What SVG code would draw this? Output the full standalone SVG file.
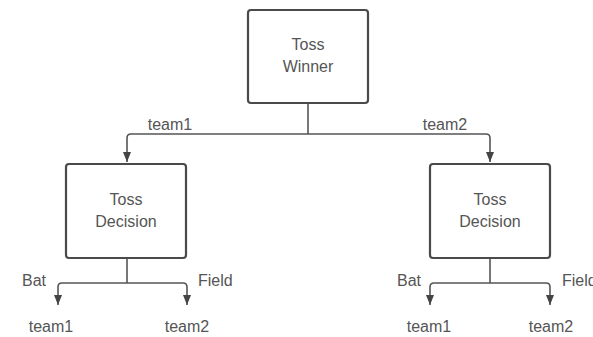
<svg xmlns="http://www.w3.org/2000/svg" width="593" height="337" viewBox="0 0 593 337">
<defs>
<style>
.box{fill:#fff;stroke:#4a4a4a;stroke-width:2.2}
.t{font-family:"Liberation Sans",Arial,sans-serif;font-size:16px;fill:#555;text-anchor:middle}
.l{font-family:"Liberation Sans",Arial,sans-serif;font-size:16px;fill:#555}
.c{fill:none;stroke:#555;stroke-width:1.6}
</style>
<marker id="ah" markerWidth="10" markerHeight="8" refX="10" refY="4" orient="auto" markerUnits="userSpaceOnUse" viewBox="0 0 10 8">
<path d="M0,0 L10,4 L0,8 Z" fill="#444"/>
</marker>
</defs>
<rect width="593" height="337" fill="#fff"/>
<g id="connectors">
<path class="c" d="M308,103 V134"/>
<path class="c" d="M308,134 H131 Q127,134 127,138 V162" marker-end="url(#ah)"/>
<path class="c" d="M308,134 H486 Q490,134 490,138 V162" marker-end="url(#ah)"/>
<path class="c" d="M127,258 V283"/>
<path class="c" d="M127,283 H62 Q58,283 58,287 V305" marker-end="url(#ah)"/>
<path class="c" d="M127,283 H183 Q187,283 187,287 V305" marker-end="url(#ah)"/>
<path class="c" d="M490,258 V283"/>
<path class="c" d="M490,283 H434 Q430,283 430,287 V305" marker-end="url(#ah)"/>
<path class="c" d="M490,283 H546 Q550,283 550,287 V305" marker-end="url(#ah)"/>
<text class="t" x="170" y="130">team1</text>
<text class="t" x="445" y="130">team2</text>
<text class="l" x="22" y="286">Bat</text>
<text class="l" x="198" y="286">Field</text>
<text class="l" x="397" y="286">Bat</text>
<text class="l" x="562" y="286">Field</text>
</g>
<g id="toss-winner">
<rect class="box" x="248" y="10" width="120" height="93" rx="3"/>
<text class="t" x="308" y="50">Toss</text>
<text class="t" x="308" y="72">Winner</text>
</g>
<g id="toss-decision-left">
<rect class="box" x="66" y="164" width="120" height="94" rx="3"/>
<text class="t" x="126" y="205">Toss</text>
<text class="t" x="126" y="227">Decision</text>
</g>
<g id="toss-decision-right">
<rect class="box" x="430" y="164" width="120" height="94" rx="3"/>
<text class="t" x="490" y="205">Toss</text>
<text class="t" x="490" y="227">Decision</text>
</g>
<g id="leaf-left-team1"><text class="t" x="51" y="332">team1</text></g>
<g id="leaf-left-team2"><text class="t" x="187" y="332">team2</text></g>
<g id="leaf-right-team1"><text class="t" x="429" y="332">team1</text></g>
<g id="leaf-right-team2"><text class="t" x="551" y="332">team2</text></g>
</svg>
